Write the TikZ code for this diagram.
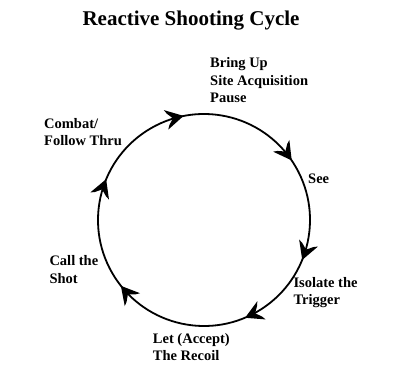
\documentclass[tikz,border=0pt]{standalone}
\usepackage{fontspec}
\setmainfont{Liberation Serif}
\usetikzlibrary{decorations.markings}
\newcommand\cycTipShape{\fill (3pt,0) -- (-15pt,10pt) -- (-13pt,6pt) -- (-8pt,0) -- (-13pt,-6pt) -- (-15pt,-10pt) -- cycle;}
\tikzset{
  lbl/.style={anchor=base west,inner sep=0pt,align=left,
    font=\bfseries\fontsize{14.5}{17.5}\selectfont},
  ttl/.style={anchor=base,inner sep=0pt,font=\bfseries\fontsize{21}{24}\selectfont},
  cyc/.style={line width=1.8pt,
    decoration={markings,
      mark=at position {(120-102.7)/360} with {\cycTipShape},
      mark=at position {(120-35.8)/360} with {\cycTipShape},
      mark=at position {(120+20.5)/360} with {\cycTipShape},
      mark=at position {(120+65.6)/360} with {\cycTipShape},
      mark=at position {(120+140)/360} with {\cycTipShape},
      mark=at position {(120+201)/360} with {\cycTipShape}},
    postaction={decorate}}
}
\begin{document}
\begin{tikzpicture}[x=1pt,y=1pt]
\useasboundingbox (0,0) rectangle (400,389);
\coordinate (c) at (204,169);
\node[ttl] (title) at (191,363) {Reactive Shooting Cycle};
\draw[cyc] (c) ++(120:106) coordinate (s) arc[start angle=120,end angle=-240,radius=106];
\node[lbl] (bring) at (210,286) {Bring Up\\Site Acquisition\\Pause};
\node[lbl] (see) at (308,205.7) {See};
\node[lbl] (iso) at (293.3,84) {Isolate the\\Trigger};
\node[lbl] (let) at (152.7,28) {Let (Accept)\\The Recoil};
\node[lbl] (call) at (49.3,105.7) {Call the\\Shot};
\node[lbl] (combat) at (44,243.3) {Combat/\\Follow Thru};
\end{tikzpicture}
\end{document}
